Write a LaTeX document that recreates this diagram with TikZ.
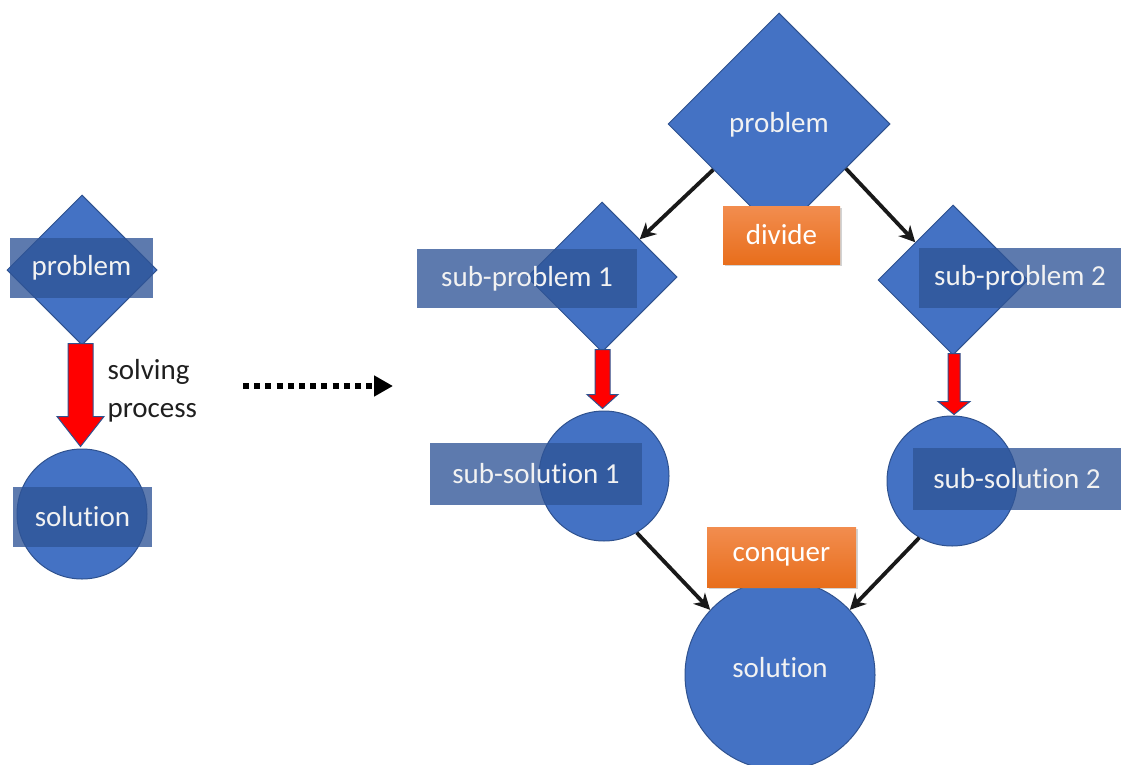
\documentclass[tikz,border=0pt]{standalone}
\usepackage{fontspec}
\setmainfont{Carlito}[Ligatures=NoCommon]
\usetikzlibrary{shapes.geometric,arrows.meta,calc,shadows}
\definecolor{shapeblue}{HTML}{4472C4}
\definecolor{edgeblue}{HTML}{2F528F}
\definecolor{overblue}{HTML}{2F5597}
\definecolor{orangetop}{HTML}{F28D4F}
\definecolor{orangebot}{HTML}{E86E1C}
\definecolor{labeltext}{HTML}{F2F2F2}
\newcommand{\fatarrow}[5]{%
  \path (#1) coordinate (fa-s) (#2) coordinate (fa-e);
  \fill[fill=red,draw=edgeblue,line width=1pt,line join=miter]
    ($(fa-s)+(-#3,0)$) -- ($(fa-s)+(#3,0)$) -- ($(fa-e)+(#3,-#5)$) -- ($(fa-e)+(#4,-#5)$)
    -- (fa-e) -- ($(fa-e)+(-#4,-#5)$) -- ($(fa-e)+(-#3,-#5)$) -- cycle;}
\begin{document}
\begin{tikzpicture}[x=1pt,y=-1pt,
  base/.style={fill=shapeblue,draw=edgeblue,line width=1pt,inner sep=0pt},
  dia/.style={base,shape=diamond,minimum width=#1,minimum height=#1},
  circ/.style={base,shape=circle,minimum size=#1},
  overlay/.style={fill=overblue,fill opacity=0.78,text opacity=1,text=labeltext,inner sep=0pt,
     font=\fontsize{29}{34}\selectfont},
  plain/.style={text=labeltext,font=\fontsize{29}{34}\selectfont},
  orangebox/.style={top color=orangetop,bottom color=orangebot,text=white,inner sep=0pt,
     font=\fontsize{29}{34}\selectfont,
     drop shadow={opacity=0.35,shadow xshift=2pt,shadow yshift=-2pt}},
  blackarrow/.style={draw=black!90,line width=3.8pt,-{Stealth[length=16pt,width=16pt,inset=5pt]}}]
\useasboundingbox (0,0) rectangle (1121,765);

% ---------- left part ----------
\node[dia=150pt] (lp) at (82,270) {};
\node[overlay,minimum width=143pt,minimum height=60pt] (lpt) at (81.5,268) {problem};
\node[circ=130pt] (ls) at (82,514) {};
\node[overlay,minimum width=139pt,minimum height=60pt] (lst) at (82.5,517) {solution};
\fatarrow{$(lp.south)+(-1.5,-2)$}{$(ls.north)+(-1.5,-2)$}{12.5}{23.5}{30}
\node[anchor=west,align=left,text=black!88,font=\fontsize{29}{38}\selectfont] (proc) at (104,391) {solving\\process};

% dotted arrow
\coordinate (da) at (243,386);
\coordinate (db) at (393,386);
\draw[line width=6pt,dash pattern=on 6pt off 5.2pt,-{Triangle[length=19pt,width=20pt]}] (da) -- (db);

% ---------- right part ----------
\node[dia=222pt] (bp) at (779,124) {};
\node[plain] (bpt) at (779,125) {problem};
\node[orangebox,minimum width=117pt,minimum height=58pt] (div) at (781.5,235) {divide};

\node[dia=150pt] (sp1) at (602,277) {};
\node[overlay,minimum width=220pt,minimum height=59pt] (sp1t) at (527,278.5) {sub-problem 1};
\node[dia=150pt] (sp2) at (953,280) {};
\node[overlay,minimum width=202pt,minimum height=60pt] (sp2t) at (1020,278) {sub-problem 2};

\node[circ=130pt] (ss1) at (604,476) {};
\node[overlay,minimum width=212pt,minimum height=62pt] (ss1t) at (536,474) {sub-solution 1};
\node[circ=130pt] (ss2) at (952,481) {};
\node[overlay,minimum width=208pt,minimum height=62pt] (ss2t) at (1017,479) {sub-solution 2};

\node[circ=190pt] (sol) at (780,675) {};
\node[plain] (solt) at (780,668) {solution};
\node[orangebox,minimum width=149pt,minimum height=60pt] (con) at (781.5,557) {conquer};

\fatarrow{$(sp1.south)+(0.5,-3)$}{$(ss1.north)+(-1.5,-2)$}{7.5}{15.5}{14}
\fatarrow{$(sp2.south)+(1,-2)$}{$(ss2.north)+(2,-1)$}{6}{16}{13}

\draw[blackarrow] ($(bp.west)!0.41!(bp.south)$) -- (sp1.north east);
\draw[blackarrow] ($(bp.east)!0.4!(bp.south)$) -- (sp2.north west);
\draw[blackarrow] (ss1.-60) -- (sol.137);
\draw[blackarrow] (ss2.-120) -- (sol.43);
\end{tikzpicture}
\end{document}
